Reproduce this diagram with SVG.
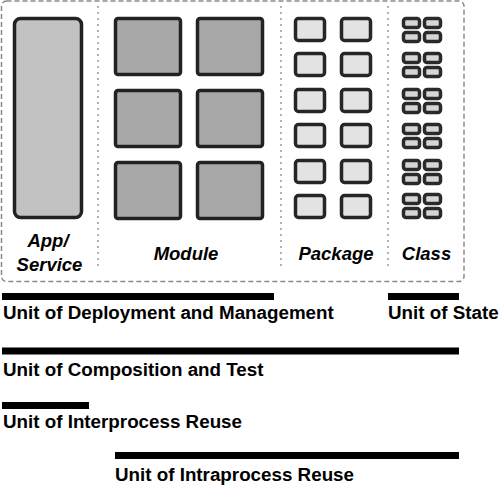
<svg xmlns="http://www.w3.org/2000/svg" width="500" height="486" viewBox="0 0 500 486">
<defs>
<style>
.frame{fill:none;stroke:#8a8a8a;stroke-width:1.5;stroke-dasharray:5 3}
.sep{stroke:#9a9a9a;stroke-width:1.5;stroke-dasharray:2 4}
.app{fill:#c2c2c2;stroke:#222;stroke-width:3.5}
.mod{fill:#a8a8a8;stroke:#222;stroke-width:3.5}
.pkg{fill:#e3e3e3;stroke:#262626;stroke-width:3.5}
.cls{fill:#d6d6d6;stroke:#2a2a2a;stroke-width:3.5}
.lbl{font-family:"Liberation Sans",Arial,sans-serif;font-weight:bold;font-style:italic;font-size:18.5px;fill:#000;text-anchor:middle}
.unit{font-family:"Liberation Sans",Arial,sans-serif;font-weight:bold;font-size:18.8px;fill:#000}
.bar{fill:#000}
</style>
</defs>
<rect class="frame" x="1.5" y="1" width="462.5" height="280.5" rx="5"/>
<g id="separators">
<line class="sep" x1="98" y1="6" x2="98" y2="270"/>
<line class="sep" x1="281" y1="6" x2="281" y2="270"/>
<line class="sep" x1="388" y1="6" x2="388" y2="270"/>
</g>
<g id="app-service">
<rect class="app" x="14.5" y="18.5" width="67" height="199" rx="6"/>
<text class="lbl" x="48" y="247">App/</text>
<text class="lbl" x="49.5" y="271">Service</text>
</g>
<g id="module">
<rect class="mod" x="115.5" y="18.5" width="65" height="56" rx="2.5"/>
<rect class="mod" x="197.5" y="18.5" width="65" height="56" rx="2.5"/>
<rect class="mod" x="115.5" y="90.5" width="65" height="56" rx="2.5"/>
<rect class="mod" x="197.5" y="90.5" width="65" height="56" rx="2.5"/>
<rect class="mod" x="115.5" y="162.5" width="65" height="56" rx="2.5"/>
<rect class="mod" x="197.5" y="162.5" width="65" height="56" rx="2.5"/>
<text class="lbl" x="186" y="259.5">Module</text>
</g>
<g id="package">
<rect class="pkg" x="295.5" y="18.5" width="29" height="22" rx="3"/>
<rect class="pkg" x="341.5" y="18.5" width="29" height="22" rx="3"/>
<rect class="pkg" x="295.5" y="53.5" width="29" height="22" rx="3"/>
<rect class="pkg" x="341.5" y="53.5" width="29" height="22" rx="3"/>
<rect class="pkg" x="295.5" y="89.5" width="29" height="22" rx="3"/>
<rect class="pkg" x="341.5" y="89.5" width="29" height="22" rx="3"/>
<rect class="pkg" x="295.5" y="124.5" width="29" height="22" rx="3"/>
<rect class="pkg" x="341.5" y="124.5" width="29" height="22" rx="3"/>
<rect class="pkg" x="295.5" y="160.5" width="29" height="22" rx="3"/>
<rect class="pkg" x="341.5" y="160.5" width="29" height="22" rx="3"/>
<rect class="pkg" x="295.5" y="195.5" width="29" height="22" rx="3"/>
<rect class="pkg" x="341.5" y="195.5" width="29" height="22" rx="3"/>
<text class="lbl" x="336" y="259.5">Package</text>
</g>
<g id="class">
<g id="class-g1">
<rect class="cls" x="403.5" y="18.5" width="16" height="9" rx="2.5"/>
<rect class="cls" x="424.5" y="18.5" width="16" height="9" rx="2.5"/>
<rect class="cls" x="403.5" y="32.5" width="16" height="9" rx="2.5"/>
<rect class="cls" x="424.5" y="32.5" width="16" height="9" rx="2.5"/>
</g>
<g id="class-g2">
<rect class="cls" x="403.5" y="53.5" width="16" height="9" rx="2.5"/>
<rect class="cls" x="424.5" y="53.5" width="16" height="9" rx="2.5"/>
<rect class="cls" x="403.5" y="67.5" width="16" height="9" rx="2.5"/>
<rect class="cls" x="424.5" y="67.5" width="16" height="9" rx="2.5"/>
</g>
<g id="class-g3">
<rect class="cls" x="403.5" y="89.5" width="16" height="9" rx="2.5"/>
<rect class="cls" x="424.5" y="89.5" width="16" height="9" rx="2.5"/>
<rect class="cls" x="403.5" y="103.5" width="16" height="9" rx="2.5"/>
<rect class="cls" x="424.5" y="103.5" width="16" height="9" rx="2.5"/>
</g>
<g id="class-g4">
<rect class="cls" x="403.5" y="124.5" width="16" height="9" rx="2.5"/>
<rect class="cls" x="424.5" y="124.5" width="16" height="9" rx="2.5"/>
<rect class="cls" x="403.5" y="138.5" width="16" height="9" rx="2.5"/>
<rect class="cls" x="424.5" y="138.5" width="16" height="9" rx="2.5"/>
</g>
<g id="class-g5">
<rect class="cls" x="403.5" y="160.5" width="16" height="9" rx="2.5"/>
<rect class="cls" x="424.5" y="160.5" width="16" height="9" rx="2.5"/>
<rect class="cls" x="403.5" y="174.5" width="16" height="9" rx="2.5"/>
<rect class="cls" x="424.5" y="174.5" width="16" height="9" rx="2.5"/>
</g>
<g id="class-g6">
<rect class="cls" x="403.5" y="194.5" width="16" height="9" rx="2.5"/>
<rect class="cls" x="424.5" y="194.5" width="16" height="9" rx="2.5"/>
<rect class="cls" x="403.5" y="208.5" width="16" height="9" rx="2.5"/>
<rect class="cls" x="424.5" y="208.5" width="16" height="9" rx="2.5"/>
</g>
<text class="lbl" x="426.5" y="259.5">Class</text>
</g>
<g id="unit-deployment">
<rect class="bar" x="2" y="293" width="272" height="7"/>
<text class="unit" x="3" y="319">Unit of Deployment and Management</text>
</g>
<g id="unit-state">
<rect class="bar" x="388" y="293" width="71" height="7"/>
<text class="unit" x="388" y="319">Unit of State</text>
</g>
<g id="unit-composition">
<rect class="bar" x="2" y="347.5" width="457" height="7"/>
<text class="unit" x="3" y="376">Unit of Composition and Test</text>
</g>
<g id="unit-interprocess">
<rect class="bar" x="2" y="402" width="87" height="7"/>
<text class="unit" x="3" y="428">Unit of Interprocess Reuse</text>
</g>
<g id="unit-intraprocess">
<rect class="bar" x="115" y="452" width="344" height="7"/>
<text class="unit" x="115" y="481">Unit of Intraprocess Reuse</text>
</g>
</svg>
